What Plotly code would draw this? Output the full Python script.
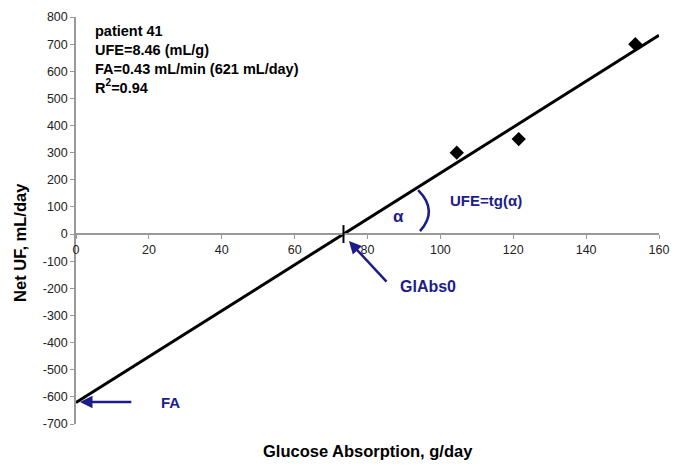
import plotly.graph_objects as go

# Data
glucose_abs = [104.5, 121.5, 153.5]
net_uf = [300, 350, 700]
slope = 8.46
intercept = -621
line_x = [0, 160]
line_y = [intercept + slope * v for v in line_x]
x0_cross = -intercept / slope

x_ticks = list(range(0, 161, 20))
y_ticks = list(range(-700, 801, 100))
y_ticklabels = [str(v) for v in y_ticks]

navy = "#1c1c8a"
font_family = "Liberation Sans, Arial, sans-serif"

fig = go.Figure()
fig.add_trace(go.Scatter(x=line_x, y=line_y, mode="lines",
                         line=dict(color="black", width=3), showlegend=False, hoverinfo="skip"))
fig.add_trace(go.Scatter(x=glucose_abs, y=net_uf, mode="markers",
                         marker=dict(symbol="diamond", size=11, color="black"), showlegend=False))

# tick mark at zero-crossing
fig.add_shape(type="line", xref="x", yref="y", x0=x0_cross, x1=x0_cross, y0=-33, y1=33,
              line=dict(color="black", width=2))
# alpha arc
fig.add_shape(type="path", xref="x", yref="y",
              path="M 93.9,162 Q 99.5,86 94.4,11",
              line=dict(color=navy, width=2.5))

anns = [
    dict(x=0.03, y=0.99, xref="paper", yref="paper", xanchor="left", yanchor="top", align="left",
         text="<b>patient 41<br>UFE=8.46 (mL/g)<br>FA=0.43 mL/min (621 mL/day)<br>R<sup>2</sup>=0.94</b>",
         showarrow=False, font=dict(size=14.5, color="black", family=font_family)),
    dict(x=1.1, y=-619, ax=15.6, ay=-619, xref="x", yref="y", axref="x", ayref="y",
         showarrow=True, arrowhead=2, arrowsize=1, arrowwidth=2.5, arrowcolor=navy, text=""),
    dict(x=25.8, y=-619, xref="x", yref="y", text="<b>FA</b>", showarrow=False,
         font=dict(size=15, color=navy, family=font_family)),
    dict(x=74.9, y=-26, ax=85.6, ay=-181, xref="x", yref="y", axref="x", ayref="y",
         showarrow=True, arrowhead=2, arrowsize=1, arrowwidth=2.5, arrowcolor=navy, text=""),
    dict(x=96.6, y=-192, xref="x", yref="y", text="<b>GlAbs0</b>", showarrow=False,
         font=dict(size=16, color=navy, family=font_family)),
    dict(x=88.5, y=66, xref="x", yref="y", text="<b>α</b>", showarrow=False,
         font=dict(size=17, color=navy, family=font_family)),
    dict(x=112.5, y=122, xref="x", yref="y", text="<b>UFE=tg(α)</b>", showarrow=False,
         font=dict(size=15, color=navy, family=font_family)),
    dict(x=0.5, y=-0.066, xref="paper", yref="paper", yanchor="middle",
         text="<b>Glucose Absorption, g/day</b>", showarrow=False,
         font=dict(size=16.5, color="black", family=font_family)),
    dict(x=-0.096, y=0.445, xref="paper", yref="paper", xanchor="center", yanchor="middle",
         text="<b>Net UF, mL/day</b>", showarrow=False, textangle=-90,
         font=dict(size=16.5, color="black", family=font_family)),
]
fig.update_layout(annotations=anns)

fig.update_layout(
    width=673, height=462,
    margin=dict(l=68, r=22, t=9, b=46),
    plot_bgcolor="white", paper_bgcolor="white",
    font=dict(family=font_family, size=12, color="#222"),
    xaxis=dict(range=[0, 160], tickvals=x_ticks, showgrid=False, zeroline=False,
               showline=True, linecolor="#999", linewidth=1.5, ticks="outside", ticklen=4,
               tickcolor="#999", anchor="free", position=700/1500, automargin=False,
               tickfont=dict(size=12.5, color="#222")),
    yaxis=dict(range=[-700, 800], tickvals=y_ticks, ticktext=y_ticklabels, showgrid=False,
               zeroline=False, showline=True, linecolor="#999", linewidth=1.5, ticks="outside",
               ticklen=4, tickcolor="#999", automargin=False,
               tickfont=dict(size=12.5, color="#222")),
)

fig.write_html("out.html")
